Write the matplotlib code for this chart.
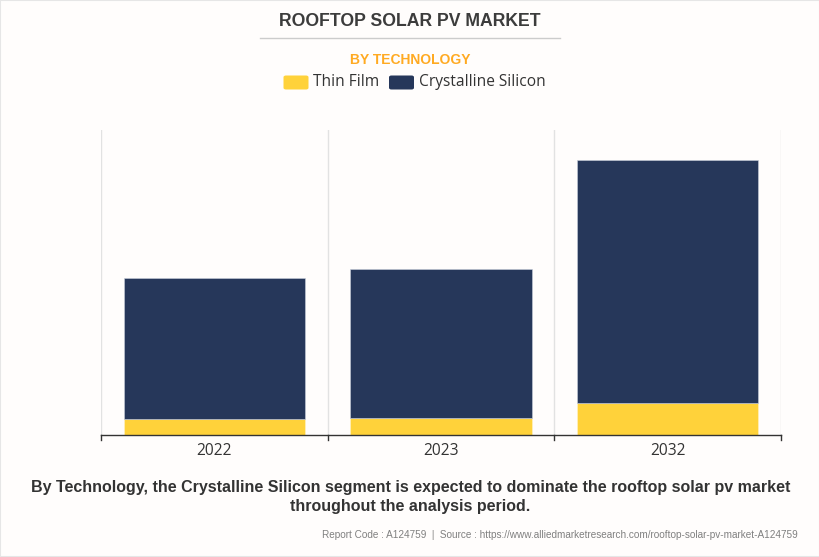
import matplotlib
matplotlib.use("Agg")
import matplotlib.pyplot as plt
from matplotlib.patches import FancyBboxPatch, Rectangle
from matplotlib.lines import Line2D

years = ["2022", "2023", "2032"]
thin_film = [16, 17.5, 32]
crystalline = [141, 148.5, 243]

W, H = 820, 557
BG = "#fffdfc"
NAVY = "#26375a"
YELLOW = "#ffd23a"

fig = plt.figure(figsize=(W / 100, H / 100), dpi=100, facecolor=BG)
ax = fig.add_axes([101.1 / W, 1 - 435 / H, 680 / W, 305 / H], facecolor=BG)

x = range(len(years))
ax.bar(x, thin_film, width=0.8, color=YELLOW, edgecolor="#fff3c8", linewidth=0.4)
ax.bar(x, crystalline, width=0.8, bottom=thin_film, color=NAVY, edgecolor="#c8cfdc", linewidth=0.4)

ax.set_xlim(-0.5, 2.5)
ax.set_ylim(0, 305)
ax.set_yticks([])
ax.set_xticks(list(x))
ax.set_xticklabels(years, fontsize=11.2, color="#333333", family="Open Sans")
ax.tick_params(axis="x", length=0, pad=6)

# category separators and the ticks below the axis
for pos in [-0.5, 0.5, 1.5, 2.5]:
    ax.axvline(pos, color="#e2e2e2", linewidth=1, zorder=0)
    ax.plot([pos, pos], [0, -0.015], transform=ax.get_xaxis_transform(),
            color="#333333", linewidth=1, clip_on=False)

for side in ["top", "left", "right"]:
    ax.spines[side].set_visible(False)
ax.spines["bottom"].set_color("#333333")
ax.spines["bottom"].set_linewidth(1)


def put(px, py, s, **kw):
    fig.text(px / W, 1 - py / H, s, va="center", **kw)


put(410, 21.5, "ROOFTOP SOLAR PV MARKET", ha="center", fontsize=12.7, fontweight="bold",
    color="#3c3c3c", family="Liberation Sans")
fig.add_artist(Line2D([260 / W, 560 / W], [1 - 37.5 / H] * 2, color="#cccccc", linewidth=1))
put(410, 59.5, "BY TECHNOLOGY", ha="center", fontsize=10, fontweight="bold",
    color="#ffaa22", family="Liberation Sans")

# hand placed legend
for lx, col in [(283.5, YELLOW), (389, NAVY)]:
    fig.add_artist(FancyBboxPatch((lx / W, 1 - 89.5 / H), 25 / W, 14 / H,
                                  boxstyle="round,pad=0,rounding_size=0.003",
                                  transform=fig.transFigure, facecolor=col, edgecolor="none"))
put(313, 82, "Thin Film", ha="left", fontsize=11.2, color="#333333", family="Open Sans")
put(419, 82, "Crystalline Silicon", ha="left", fontsize=11.2, color="#333333", family="Open Sans")

put(410.5, 487.5, "By Technology, the Crystalline Silicon segment is expected to dominate the rooftop solar pv market",
    ha="center", fontsize=11.5, fontweight="bold", color="#333333", family="Liberation Sans")
put(410.5, 507, "throughout the analysis period.", ha="center", fontsize=11.5, fontweight="bold",
    color="#333333", family="Liberation Sans")
put(798, 534.5, "Report Code : A124759  |  Source : https://www.alliedmarketresearch.com/rooftop-solar-pv-market-A124759",
    ha="right", fontsize=7.2, color="#808080", family="Liberation Sans")

# thin frame of the card
fig.add_artist(Rectangle((0, 0), 1, 1, transform=fig.transFigure, fill=False,
                         edgecolor="#e6e6e6", linewidth=1.5))

fig.savefig("out.png", dpi=100, facecolor=BG)
